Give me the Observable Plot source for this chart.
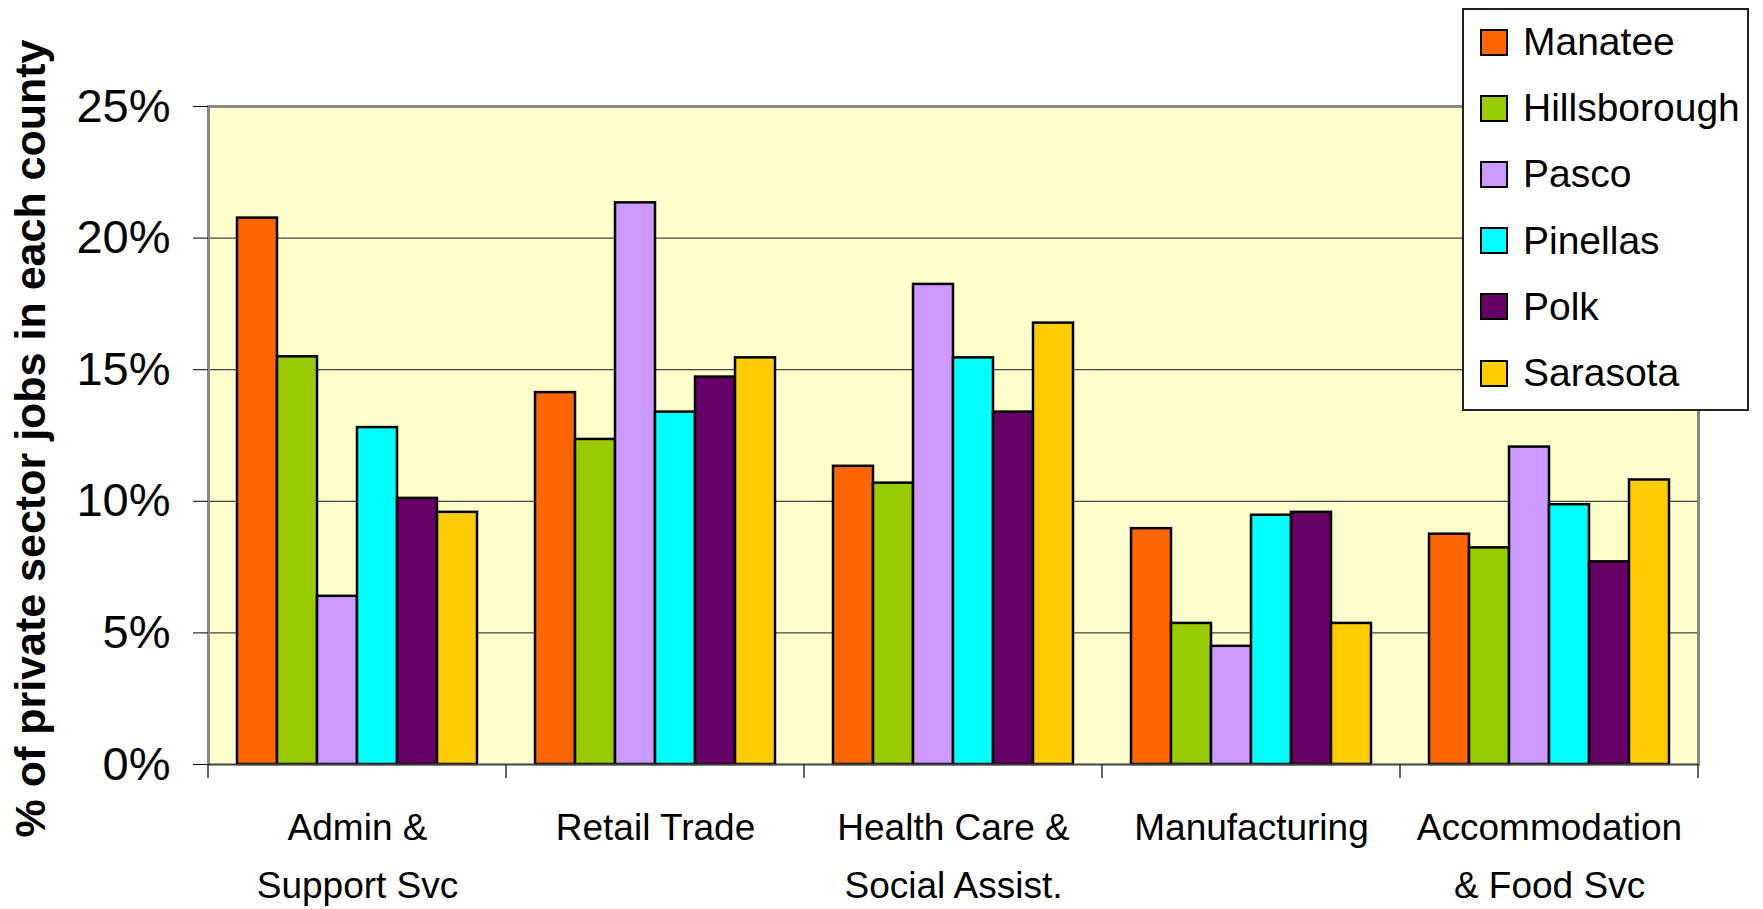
<!DOCTYPE html>
<html><head><meta charset="utf-8">
<script src="https://cdn.jsdelivr.net/npm/d3@7"></script>
<script src="https://cdn.jsdelivr.net/npm/@observablehq/plot@0.6"></script>
<style>
body{margin:0;background:#fff;font-family:"Liberation Sans",Arial,sans-serif;}
#wrap{position:relative;width:1763px;height:909px;}
#wrap svg{position:absolute;left:0;top:0;}
#legend{position:absolute;left:1462px;top:8px;width:287px;height:403px;box-sizing:border-box;border:2px solid #222;background:#fff;}
.item{position:absolute;left:16px;height:50px;display:flex;align-items:center;font-size:39px;color:#000;white-space:nowrap;}
.sw{width:28px;height:27px;box-sizing:border-box;border:2.5px solid #000;margin-right:15px;flex:none;}
</style></head><body><div id="wrap"><div id="legend"></div></div>
<script>
const categories = ["Admin & Support Svc","Retail Trade","Health Care & Social Assist.","Manufacturing","Accommodation & Food Svc"];
const categoryLabels = ["Admin &\nSupport Svc","Retail Trade","Health Care &\nSocial Assist.","Manufacturing","Accommodation\n& Food Svc"];
const counties = ["Manatee","Hillsborough","Pasco","Pinellas","Polk","Sarasota"];
const colors = ["#FF6600","#99CC00","#CC99FF","#00FFFF","#660066","#FFCC00"];
const manatee      = [20.76, 14.13, 11.33, 8.96, 8.75];
const hillsborough = [15.49, 12.35, 10.69, 5.36, 8.23];
const pasco        = [6.39, 21.34, 18.24, 4.49, 12.06];
const pinellas     = [12.80, 13.39, 15.45, 9.47, 9.87];
const polk         = [10.11, 14.72, 13.39, 9.58, 7.70];
const sarasota     = [9.58, 15.45, 16.77, 5.36, 10.81];
const yTicks = [0, 5, 10, 15, 20, 25];
const gridTicks = [5, 10, 15, 20];
const yTitle = "% of private sector jobs in each county";

const series = [manatee, hillsborough, pasco, pinellas, polk, sarasota];
const data = [];
categories.forEach((c, ci) => counties.forEach((k, ki) => data.push({category: c, county: k, value: series[ki][ci]})));

const font = '"Liberation Sans", Arial, sans-serif';
const plot = Plot.plot({
  width: 1763, height: 909,
  marginLeft: 208, marginRight: 65, marginTop: 106, marginBottom: 145,
  style: {fontFamily: font, background: "transparent", color: "#000", overflow: "visible"},
  fx: {domain: categories, padding: 0, label: null},
  x: {domain: counties, paddingInner: 0, paddingOuter: 0.72, axis: null},
  y: {domain: [0, 25], axis: null},
  color: {domain: counties, range: colors},
  marks: [
    Plot.frame({fill: "#FFFFCC", stroke: null}),
    Plot.ruleY(gridTicks, {stroke: "#444", strokeWidth: 1.2}),
    Plot.ruleY([25], {stroke: "#888", strokeWidth: 3}),
    Plot.barY(data, {fx: "category", x: "county", y: "value", fill: "county", stroke: "#000", strokeWidth: 2.5}),
    Plot.frame({anchor: "left", facetAnchor: "left", stroke: "#888", strokeWidth: 3}),
    Plot.frame({anchor: "right", facetAnchor: "right", stroke: "#888", strokeWidth: 3}),
    Plot.ruleY([0], {stroke: "#444", strokeWidth: 2}),
    Plot.axisY({ticks: yTicks, tickFormat: d => d + "%", tickSize: 15, tickPadding: 23, fontSize: 47, label: null}),
    Plot.axisFx({anchor: "bottom", tickSize: 0, tickPadding: 35, fontSize: 37, lineHeight: 1.55,
      tickFormat: d => categoryLabels[categories.indexOf(d)], label: null}),
    Plot.text([yTitle], {frameAnchor: "left", facetAnchor: "left", rotate: -90, dx: -177, dy: 3,
      textAnchor: "middle", lineAnchor: "middle", fontSize: 43, fontWeight: "bold", fill: "#000"})
  ]
});

// category boundary ticks below the axis, from the fx scale
const fx = plot.scale("fx"), ys = plot.scale("y");
const y0 = ys.apply(0);
const edges = categories.map(c => fx.apply(c)).concat([fx.apply(categories[categories.length - 1]) + fx.bandwidth]);
const g = d3.select(plot).append("g").attr("stroke", "#333").attr("stroke-width", 1.5);
edges.forEach(x => g.append("line").attr("x1", x).attr("x2", x).attr("y1", y0).attr("y2", y0 + 14));

const wrap = document.getElementById("wrap");
wrap.insertBefore(plot, wrap.firstChild);

const legend = document.getElementById("legend");
counties.forEach((k, i) => {
  const it = document.createElement("div");
  it.className = "item";
  it.style.top = (7 + 66.2 * i) + "px";
  const sw = document.createElement("div");
  sw.className = "sw";
  sw.style.background = colors[i];
  it.appendChild(sw);
  it.appendChild(document.createTextNode(k));
  legend.appendChild(it);
});
</script></body></html>
